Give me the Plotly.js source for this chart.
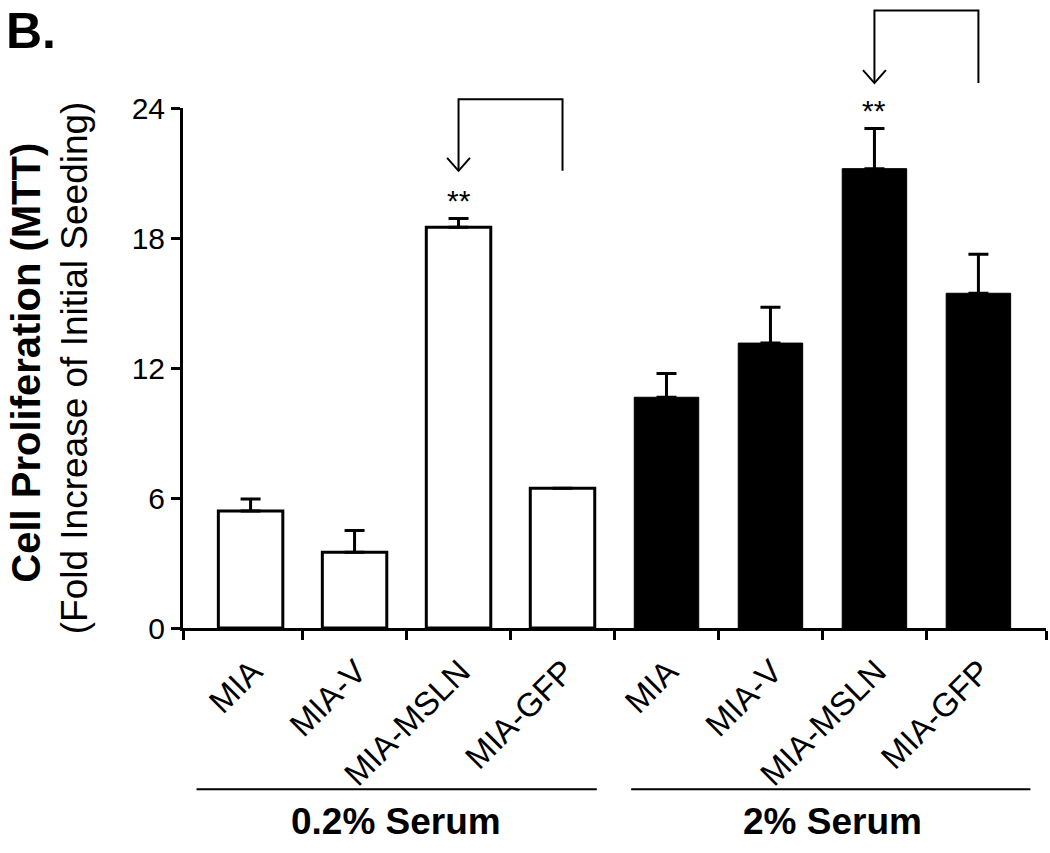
<!DOCTYPE html>
<html>
<head>
<meta charset="utf-8">
<script src="https://cdn.plot.ly/plotly-3.0.1.min.js"></script>
<style>
  body { margin: 0; background: #fff; }
  #chart { width: 1050px; height: 853px; }
</style>
</head>
<body>
<div id="chart"></div>
<script>
// cell lines, two serum conditions
var cellLines = ["MIA", "MIA-V", "MIA-MSLN", "MIA-GFP"];
var groups = ["0.2% Serum", "2% Serum"];

// fold increase (MTT) and upper SEM
var lowSerum = [5.4, 3.5, 18.5, 6.45];
var lowSerumErr = [0.55, 1.0, 0.4, 0];
var highSerum = [10.65, 13.15, 21.2, 15.45];
var highSerumErr = [1.1, 1.65, 1.85, 1.8];

var yMax = 24;
var yTicks = [0, 6, 12, 18, 24];

var font = "Liberation Sans, Arial, Helvetica";

var xLow = cellLines.map((d, i) => i);
var xHigh = cellLines.map((d, i) => i + cellLines.length);
var allLabels = cellLines.concat(cellLines);
var allX = xLow.concat(xHigh);

var data = [
    {
        x: xLow,
        y: lowSerum,
        type: 'bar',
        width: 0.62,
        marker: { color: 'white', line: { color: 'black', width: 3 } },
        error_y: { type: 'data', symmetric: false, array: lowSerumErr, arrayminus: lowSerum.map(() => 0),
                   color: 'black', thickness: 3, width: 10 },
        hoverinfo: 'y',
        name: groups[0]
    },
    {
        x: xHigh,
        y: highSerum,
        type: 'bar',
        width: 0.62,
        marker: { color: 'black', line: { color: 'black', width: 1 } },
        error_y: { type: 'data', symmetric: false, array: highSerumErr, arrayminus: highSerum.map(() => 0),
                   color: 'black', thickness: 3, width: 10 },
        hoverinfo: 'y',
        name: groups[1]
    }
];

// data value -> paper y (so brackets can sit above the plot area)
var yp = v => v / yMax;

// significance bracket from bar i (arrow end) to bar i+1
function bracket(i, yTop, yTip) {
    var a = i, b = i + 1;
    return [
        { type: 'path', xref: 'x', yref: 'paper',
          path: 'M ' + a + ',' + yp(yTip) + ' L ' + a + ',' + yp(yTop) + ' L ' + b + ',' + yp(yTop) + ' L ' + b + ',' + yp(yTip),
          line: { color: 'black', width: 2 } },
        { type: 'path', xref: 'x', yref: 'paper',
          path: 'M ' + (a - 0.11) + ',' + yp(yTip + 0.6) + ' L ' + a + ',' + yp(yTip) + ' L ' + (a + 0.11) + ',' + yp(yTip + 0.6),
          line: { color: 'black', width: 2 } }
    ];
}

var shapes = []
    .concat(bracket(2, 24.4, 21.1))
    .concat(bracket(6, 28.5, 25.15));

// group underlines
var groupY = -0.31;
shapes.push({ type: 'line', xref: 'x', yref: 'paper', x0: -0.52, x1: 3.33, y0: groupY, y1: groupY,
              line: { color: 'black', width: 2 } });
shapes.push({ type: 'line', xref: 'x', yref: 'paper', x0: 3.66, x1: 7.5, y0: groupY, y1: groupY,
              line: { color: 'black', width: 2 } });

var annotations = [
    { text: '**', x: 2, y: lowSerum[2] + lowSerumErr[2], xref: 'x', yref: 'y', yanchor: 'bottom',
      yshift: 0, showarrow: false, font: { family: font, size: 30, color: 'black' } },
    { text: '**', x: 6, y: highSerum[2] + highSerumErr[2], xref: 'x', yref: 'y', yanchor: 'bottom',
      yshift: 0, showarrow: false, font: { family: font, size: 30, color: 'black' } },
    { text: '<b>' + groups[0] + '</b>', x: 1.4, y: -0.373, xref: 'x', yref: 'paper', yanchor: 'middle',
      showarrow: false, font: { family: font, size: 37, color: 'black' } },
    { text: '<b>' + groups[1] + '</b>', x: 5.6, y: -0.373, xref: 'x', yref: 'paper', yanchor: 'middle',
      showarrow: false, font: { family: font, size: 37, color: 'black' } },
    { text: '<b>B.</b>', x: -0.207, y: 1.205, xref: 'paper', yref: 'paper', xanchor: 'left', yanchor: 'top',
      showarrow: false, font: { family: font, size: 50, color: 'black' } },
    { text: '<b>Cell Proliferation (MTT)</b>', x: -0.182, y: 0.51, xref: 'paper', yref: 'paper',
      xanchor: 'center', yanchor: 'middle', textangle: -90, showarrow: false,
      font: { family: font, size: 40, color: 'black' } },
    { text: '(Fold Increase of Initial Seeding)', x: -0.126, y: 0.5, xref: 'paper', yref: 'paper',
      xanchor: 'center', yanchor: 'middle', textangle: -90, showarrow: false,
      font: { family: font, size: 37, color: 'black' } }
];

var layout = {
    width: 1050,
    height: 853,
    margin: { l: 183, r: 4, t: 108, b: 225 },
    paper_bgcolor: 'white',
    plot_bgcolor: 'white',
    showlegend: false,
    barmode: 'overlay',
    xaxis: {
        range: [-0.65, 7.65],
        tickmode: 'array',
        tickvals: allX,
        ticktext: allLabels,
        tickangle: -45,
        ticks: '',
        ticklabelshift: 2,
        ticklabelstandoff: 8,
        tickfont: { family: font, size: 33, color: 'black' },
        showline: true,
        linecolor: 'black',
        linewidth: 3,
        showgrid: false,
        zeroline: false,
        minor: {
            tickmode: 'array',
            tickvals: [-0.65, 0.5, 1.5, 2.5, 3.5, 4.5, 5.5, 6.5, 7.65],
            ticks: 'outside',
            ticklen: 9,
            tickwidth: 3,
            tickcolor: 'black',
            showgrid: false
        }
    },
    yaxis: {
        range: [0, yMax],
        tickmode: 'array',
        tickvals: yTicks,
        ticks: 'outside',
        ticklen: 9,
        tickwidth: 3,
        tickcolor: 'black',
        tickfont: { family: font, size: 30, color: 'black' },
        showline: true,
        linecolor: 'black',
        linewidth: 3,
        showgrid: false,
        zeroline: false
    },
    shapes: shapes,
    annotations: annotations
};

Plotly.newPlot('chart', data, layout, { displayModeBar: false });
</script>
</body>
</html>
